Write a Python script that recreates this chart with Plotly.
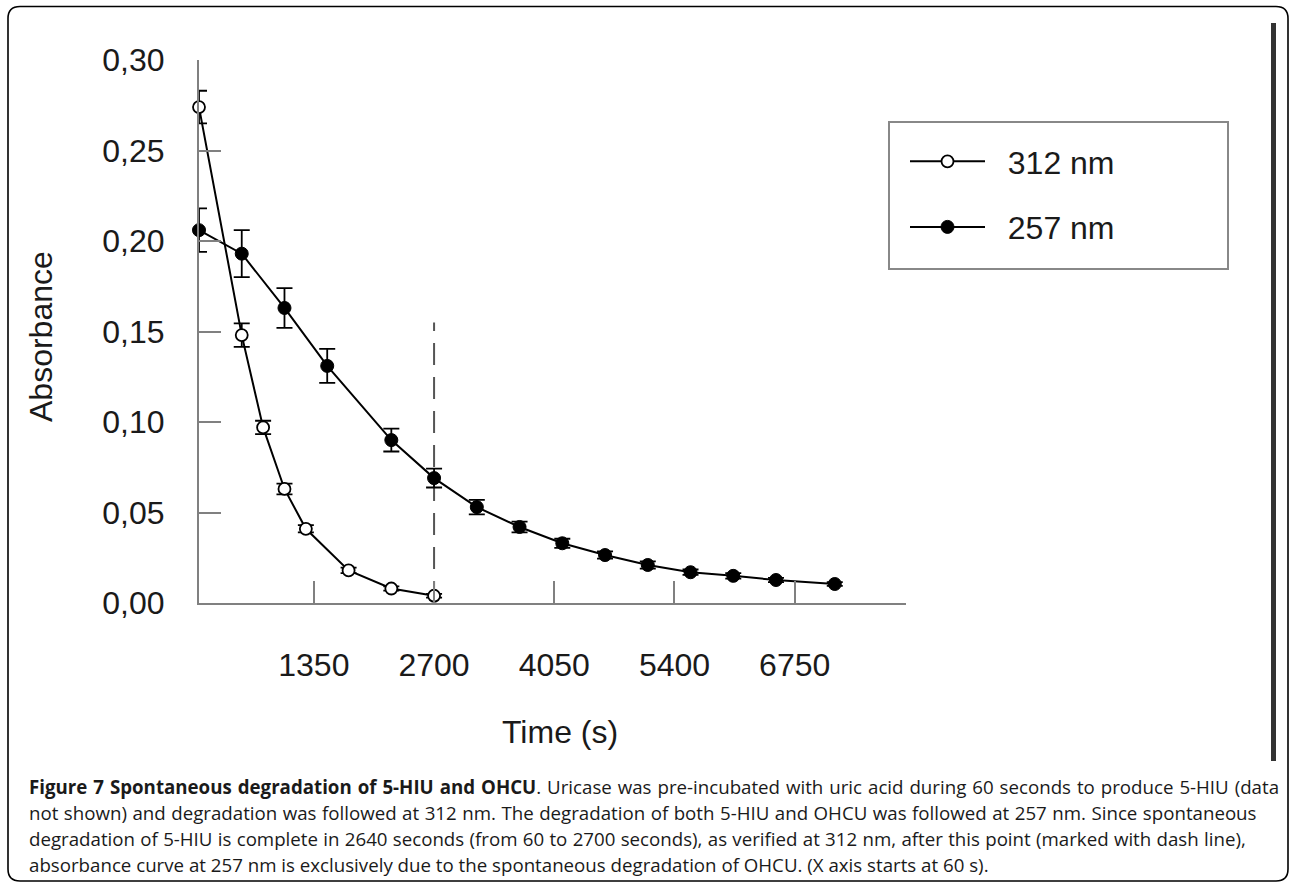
import plotly.graph_objects as go

# ---- data ----
t_312 = [60, 540, 780, 1020, 1260, 1740, 2220, 2700]
abs_312 = [0.274, 0.148, 0.097, 0.063, 0.041, 0.018, 0.008, 0.004]
err_312 = [0.009, 0.0065, 0.0037, 0.003, 0.002, 0.0015, 0.0012, 0.001]

t_257 = [60, 540, 1020, 1500, 2220, 2700, 3180, 3660, 4140, 4620, 5100, 5580, 6060, 6540, 7200]
abs_257 = [0.206, 0.193, 0.163, 0.131, 0.090, 0.069, 0.053, 0.042, 0.033, 0.0265, 0.021, 0.017, 0.015, 0.0127, 0.0105]
err_257 = [0.012, 0.013, 0.011, 0.0094, 0.0063, 0.0052, 0.004, 0.003, 0.0025, 0.002, 0.002, 0.0015, 0.0015, 0.0012, 0.001]

x_tickvals = [1350, 2700, 4050, 5400, 6750]
x_ticktext = ["1350", "2700", "4050", "5400", "6750"]
y_tickvals = [0.0, 0.05, 0.10, 0.15, 0.20, 0.25, 0.30]
y_ticktext = ["0,00", "0,05", "0,10", "0,15", "0,20", "0,25", "0,30"]

series_names = ["312 nm", "257 nm"]
dash_x = 2700
dash_top = 0.155

caption_lines = [
    "<b>Figure 7 Spontaneous degradation of 5-HIU and OHCU</b>. Uricase was pre-incubated with uric acid during 60 seconds to produce 5-HIU (data",
    "not shown) and degradation was followed at 312 nm. The degradation of both 5-HIU and OHCU was followed at 257 nm. Since spontaneous",
    "degradation of 5-HIU is complete in 2640 seconds (from 60 to 2700 seconds), as verified at 312 nm, after this point (marked with dash line),",
    "absorbance curve at 257 nm is exclusively due to the spontaneous degradation of OHCU. (X axis starts at 60 s).",
]
caption_word_spacing = [1.1, 0.65, 0.45, 0.0]

# ---- layout geometry (pixels) ----
W, H = 1290, 884
L, R, T, B = 199, 384, 60, 281
PW, PH = W - L - R, H - T - B


def px(xp):
    return (xp - L) / PW


def py(yp):
    return (H - B - yp) / PH


AXFONT = "Liberation Sans, Arial, sans-serif"
NB = "\u00a0\u00a0"

fig = go.Figure()

fig.add_trace(go.Scatter(
    x=t_312, y=abs_312, name=NB + series_names[0], mode="lines+markers",
    line=dict(color="black", width=2),
    marker=dict(symbol="circle", size=12, color="white", line=dict(color="black", width=1.8)),
    error_y=dict(type="data", array=err_312, visible=True, color="black", thickness=1.8, width=8),
    cliponaxis=False, legendgroup="a",
))
fig.add_trace(go.Scatter(
    x=t_257, y=abs_257, name=NB + series_names[1], mode="lines+markers",
    line=dict(color="black", width=2),
    marker=dict(symbol="circle", size=13, color="black", line=dict(color="black", width=1)),
    error_y=dict(type="data", array=err_257, visible=True, color="black", thickness=1.8, width=8),
    cliponaxis=False, legendgroup="b",
))

# dashed marker line at the end of 5-HIU degradation
fig.add_shape(type="line", xref="x", yref="y", x0=dash_x, x1=dash_x, y0=0, y1=dash_top,
              line=dict(color="#555555", width=2, dash="22px,12px"), layer="below")

# legend box
fig.add_shape(type="rect", xref="paper", yref="paper",
              x0=px(889), x1=px(1228), y0=py(269), y1=py(122),
              line=dict(color="#888888", width=2))

# right dark bar
fig.add_shape(type="rect", xref="paper", yref="paper",
              x0=px(1271), x1=px(1276), y0=py(761), y1=py(23),
              line=dict(width=0), fillcolor="#333333")

# rounded outer frame
x0f, x1f, y0f, y1f = 8, 1288, 6.5, 881
r = 12
path = (
    f"M {px(x0f + r)},{py(y0f)} L {px(x1f - r)},{py(y0f)} "
    f"Q {px(x1f)},{py(y0f)} {px(x1f)},{py(y0f + r)} "
    f"L {px(x1f)},{py(y1f - r)} Q {px(x1f)},{py(y1f)} {px(x1f - r)},{py(y1f)} "
    f"L {px(x0f + r)},{py(y1f)} Q {px(x0f)},{py(y1f)} {px(x0f)},{py(y1f - r)} "
    f"L {px(x0f)},{py(y0f + r)} Q {px(x0f)},{py(y0f)} {px(x0f + r)},{py(y0f)} Z"
)
fig.add_shape(type="path", xref="paper", yref="paper", path=path,
              line=dict(color="black", width=1.6))

# axis titles
fig.add_annotation(text="Absorbance", xref="paper", yref="paper", x=px(41), y=py(337),
                   textangle=-90, showarrow=False, font=dict(family=AXFONT, size=32, color="#1a1a1a"),
                   xanchor="center", yanchor="middle")
fig.add_annotation(text="Time (s)", xref="paper", yref="paper", x=px(560), y=py(732),
                   showarrow=False, font=dict(family=AXFONT, size=32, color="#1a1a1a"),
                   xanchor="center", yanchor="middle")

# caption
cap_y = [786.5, 812.5, 838.5, 864.5]
for line, yy, ws in zip(caption_lines, cap_y, caption_word_spacing):
    fig.add_annotation(text=f'<span style="word-spacing:{ws}px">{line}</span>',
                       xref="paper", yref="paper", x=px(27), y=py(yy),
                       showarrow=False, xanchor="left", yanchor="middle", align="left",
                       font=dict(family="Open Sans, sans-serif", size=18.7, color="#1a1a1a"))

fig.update_xaxes(range=[60, 8000], showline=True, linecolor="#808080", linewidth=2,
                 ticks="inside", ticklen=22, tickwidth=1.6, tickcolor="#808080",
                 tickvals=x_tickvals, ticktext=x_ticktext, showgrid=False, zeroline=False,
                 tickfont=dict(family=AXFONT, size=32, color="#1a1a1a"), ticklabelstandoff=33)
fig.update_yaxes(range=[0, 0.30], showline=True, linecolor="#808080", linewidth=2,
                 ticks="inside", ticklen=22, tickwidth=1.6, tickcolor="#808080",
                 tickvals=y_tickvals, ticktext=y_ticktext, showgrid=False, zeroline=False,
                 tickfont=dict(family=AXFONT, size=32, color="#1a1a1a"), ticklabelstandoff=26)

fig.update_layout(
    width=W, height=H, autosize=False,
    margin=dict(l=L, r=R, t=T, b=B),
    paper_bgcolor="white", plot_bgcolor="white",
    showlegend=True,
    legend=dict(x=px(905), y=py(134), xanchor="left", yanchor="top",
                bgcolor="rgba(0,0,0,0)", borderwidth=0, itemwidth=75,
                font=dict(family=AXFONT, size=32, color="#1a1a1a"), tracegroupgap=21),
)

fig.write_html("out.html",
               config={"displayModeBar": False},
               post_script="document.body.style.margin='0';document.body.style.padding='0';"
                           "document.body.style.overflow='hidden';")
